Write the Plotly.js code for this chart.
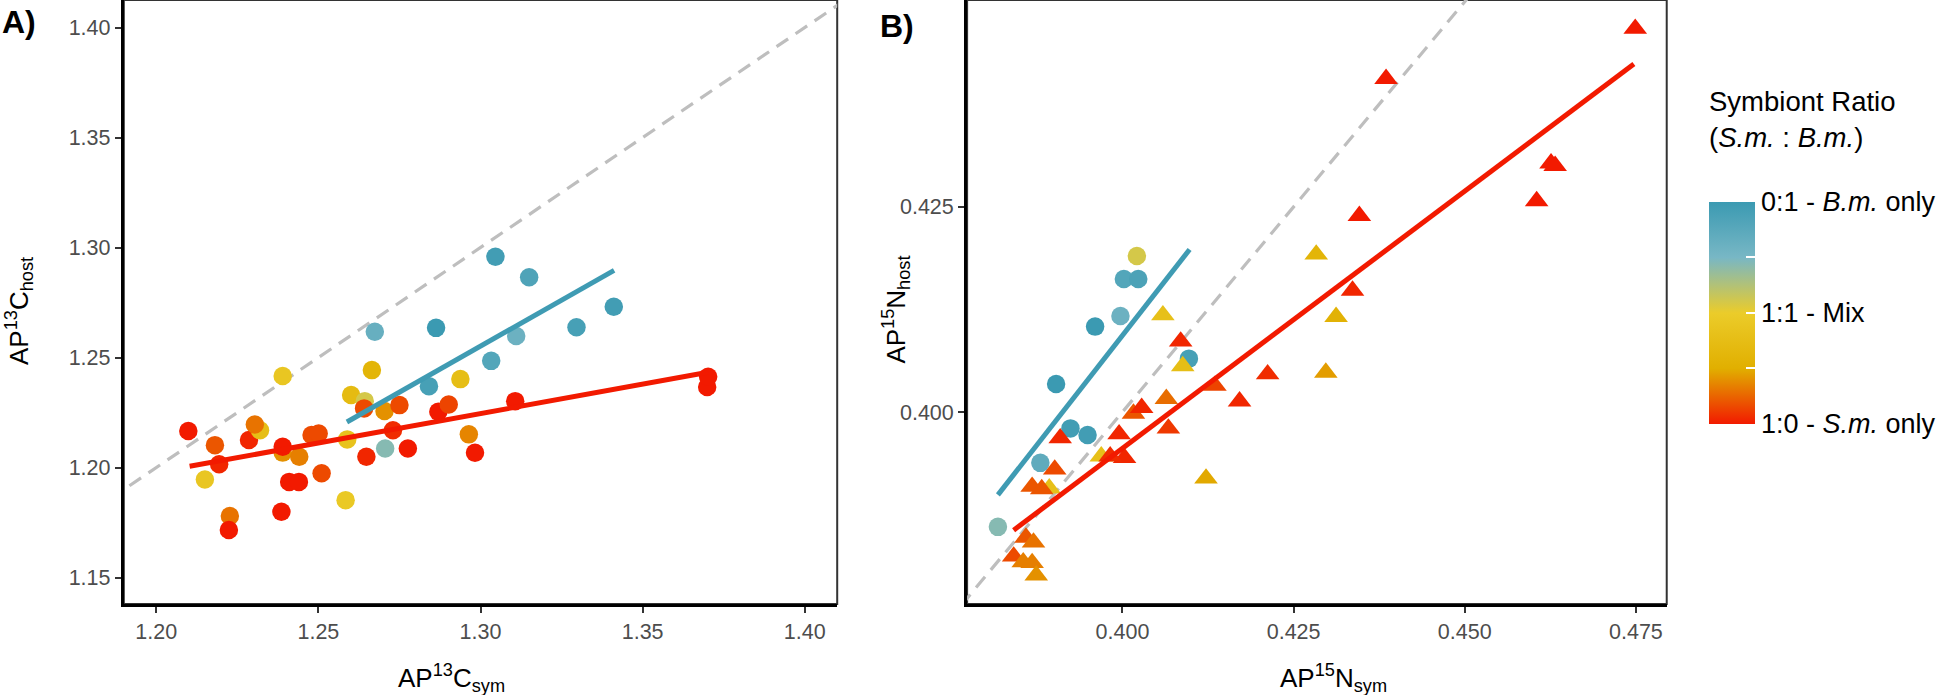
<!DOCTYPE html>
<html>
<head>
<meta charset="utf-8">
<script src="https://cdn.plot.ly/plotly-3.0.1.min.js"></script>
<style>
  html, body { margin: 0; padding: 0; background: #fff; }
  #chart { width: 1945px; height: 695px; }
</style>
</head>
<body>
<div id="chart"></div>
<script>
// Panel A - carbon (all circles)
const symA = [1.2099, 1.2181, 1.2194, 1.2150, 1.2227, 1.2224, 1.2286, 1.2320, 1.2304, 1.2390,
              1.2390, 1.2390, 1.2386, 1.2410, 1.2440, 1.2441, 1.2479, 1.2501, 1.2510, 1.2584,
              1.2589, 1.2601, 1.2643, 1.2641, 1.2648, 1.2665, 1.2674, 1.2704, 1.2706, 1.2730,
              1.2750, 1.2776, 1.2841, 1.2863, 1.2870, 1.2902, 1.2938, 1.2964, 1.2983, 1.3033,
              1.3046, 1.3110, 1.3107, 1.3150, 1.3296, 1.3411, 1.3699, 1.3702];
const hostA = [1.2166, 1.2102, 1.2015, 1.1946, 1.1780, 1.1716, 1.2125, 1.2170, 1.2196, 1.2416,
               1.2068, 1.2095, 1.1799, 1.1935, 1.1935, 1.2049, 1.2148, 1.2155, 1.1974, 1.1852,
               1.2128, 1.2330, 1.2302, 1.2269, 1.2049, 1.2443, 1.2617, 1.2257, 1.2087, 1.2170,
               1.2284, 1.2087, 1.2370, 1.2635, 1.2254, 1.2287, 1.2402, 1.2151, 1.2067, 1.2485,
               1.2958, 1.2598, 1.2302, 1.2865, 1.2638, 1.2731, 1.2366, 1.2413];
const ratioA = [0.00, 0.10, 0.02, 0.45, 0.15, 0.00, 0.02, 0.38, 0.15, 0.45,
                0.20, 0.00, 0.00, 0.00, 0.00, 0.17, 0.08, 0.08, 0.08, 0.47,
                0.42, 0.35, 0.55, 0.08, 0.02, 0.30, 0.82, 0.20, 0.72, 0.03,
                0.08, 0.00, 0.95, 1.00, 0.00, 0.07, 0.38, 0.18, 0.00, 0.90,
                0.97, 0.80, 0.00, 0.92, 0.95, 0.97, 0.00, 0.00];

// Panel B - nitrogen, circles
const symBc  = [0.4021, 0.3818, 0.3880, 0.3903, 0.3924, 0.3949, 0.3960, 0.3997, 0.4002, 0.4023, 0.4097];
const hostBc = [0.4190, 0.3860, 0.3938, 0.4034, 0.3980, 0.3972, 0.4104, 0.4117, 0.4162, 0.4162, 0.4065];
const ratioBc = [0.55, 0.72, 0.85, 1.00, 0.97, 0.97, 1.00, 0.80, 0.90, 0.93, 0.95];

// Panel B - nitrogen, triangles
const symBt  = [0.4385, 0.4346, 0.4336, 0.4283, 0.4312, 0.4297, 0.4212, 0.4171, 0.4135, 0.4122,
                0.4059, 0.4085, 0.4088, 0.4064, 0.4067, 0.4016, 0.4028, 0.3995, 0.4003, 0.3969,
                0.3982, 0.3909, 0.3901, 0.3893, 0.3868, 0.3882, 0.3859, 0.3870, 0.3841, 0.3855,
                0.3868, 0.3874, 0.4749, 0.4626, 0.4632, 0.4605];
const hostBt = [0.4406, 0.4239, 0.4148, 0.4192, 0.4116, 0.4048, 0.4046, 0.4013, 0.4032, 0.3919,
                0.4118, 0.4086, 0.4056, 0.4016, 0.3980, 0.3998, 0.4005, 0.3973, 0.3944, 0.3946,
                0.3946, 0.3968, 0.3930, 0.3907, 0.3909, 0.3906, 0.3847, 0.3841, 0.3824, 0.3817,
                0.3816, 0.3801, 0.4467, 0.4303, 0.4300, 0.4257];
const ratioBt = [0.00, 0.00, 0.02, 0.30, 0.28, 0.22, 0.03, 0.02, 0.07, 0.24,
                 0.40, 0.02, 0.38, 0.14, 0.05, 0.10, 0.02, 0.02, 0.02, 0.40,
                 0.03, 0.02, 0.08, 0.40, 0.10, 0.10, 0.10, 0.15, 0.08, 0.17,
                 0.17, 0.20, 0.00, 0.00, 0.00, 0.00];

// fitted lines (end points)
const fitRedAx = [1.2103, 1.3702], fitRedAy = [1.2006, 1.2433];
const fitBlueAx = [1.2588, 1.3412], fitBlueAy = [1.2207, 1.2896];
const fitRedBx = [0.3841, 0.4747], fitRedBy = [0.3856, 0.4424];
const fitBlueBx = [0.3818, 0.4098], fitBlueBy = [0.3899, 0.4198];

// 1:1 lines
const oneToOneA = [1.18, 1.42];
const oneToOneB = [0.37, 0.46];

// colour bar
const ratioTicks = [0, 0.25, 0.5, 0.75, 1];
const ratioLabels = ['1:0 - <i>S.m.</i> only', '', '1:1 - Mix', '', '0:1 - <i>B.m.</i> only'];

const zissou = [[0, '#F21A00'], [0.25, '#E1AF00'], [0.5, '#EBCC2A'], [0.75, '#78B7C5'], [1, '#3B9AB2']];
const RED = '#F21A00', BLUE = '#3F9BB3', DASH = '#BEBEBE';

function markerFor(vals, symbol, size, showScale) {
    let m = {
        color: vals, colorscale: zissou, cmin: 0, cmax: 1,
        symbol: symbol, size: size, line: {width: 0}, opacity: 1
    };
    if (showScale) {
        m.showscale = true;
        m.colorbar = {
            x: 1712 / 1945, xanchor: 'left',
            y: 0.5498, yanchor: 'middle',
            len: 222 / 695, lenmode: 'fraction',
            thickness: 46, thicknessmode: 'pixels',
            xpad: 0, ypad: 0, outlinewidth: 0,
            tickmode: 'array', tickvals: ratioTicks, ticktext: ratioLabels,
            ticks: 'inside', ticklen: 9, tickwidth: 2, tickcolor: 'white',
            tickfont: {family: 'Liberation Sans, Arial, sans-serif', size: 27, color: '#000'},
            title: {text: ''}
        };
    }
    return m;
}

let traces = [
    // panel A
    {x: oneToOneA, y: oneToOneA, mode: 'lines', xaxis: 'x', yaxis: 'y',
     line: {color: DASH, width: 3.2, dash: '14px,9px'}},
    {x: symA, y: hostA, mode: 'markers', xaxis: 'x', yaxis: 'y',
     marker: markerFor(ratioA, 'circle', 18.5, true)},
    {x: fitRedAx, y: fitRedAy, mode: 'lines', xaxis: 'x', yaxis: 'y', line: {color: RED, width: 5}},
    {x: fitBlueAx, y: fitBlueAy, mode: 'lines', xaxis: 'x', yaxis: 'y', line: {color: BLUE, width: 5}},
    // panel B
    {x: oneToOneB, y: oneToOneB, mode: 'lines', xaxis: 'x2', yaxis: 'y2',
     line: {color: DASH, width: 3.2, dash: '14px,9px'}},
    {x: symBc, y: hostBc, mode: 'markers', xaxis: 'x2', yaxis: 'y2',
     marker: markerFor(ratioBc, 'circle', 18.5, false)},
    {x: symBt, y: hostBt, mode: 'markers', xaxis: 'x2', yaxis: 'y2',
     marker: markerFor(ratioBt, 'triangle-up', 20.5, false)},
    {x: fitRedBx, y: fitRedBy, mode: 'lines', xaxis: 'x2', yaxis: 'y2', line: {color: RED, width: 5}},
    {x: fitBlueBx, y: fitBlueBy, mode: 'lines', xaxis: 'x2', yaxis: 'y2', line: {color: BLUE, width: 5}}
];

const FONT = 'Liberation Sans, Arial, Helvetica, sans-serif';
const tickFont = {family: FONT, size: 21.5, color: '#4D4D4D'};

function axisStyle(extra) {
    return Object.assign({
        showgrid: false, zeroline: false,
        showline: true, linecolor: '#000', linewidth: 3,
        ticks: 'outside', ticklen: 6, tickwidth: 2, tickcolor: '#333',
        tickfont: tickFont, fixedrange: true
    }, extra);
}

let layout = {
    width: 1945, height: 695,
    margin: {l: 0, r: 0, t: 0, b: 0},
    paper_bgcolor: '#fff', plot_bgcolor: '#fff',
    showlegend: false, hovermode: false,
    font: {family: FONT},
    xaxis: axisStyle({domain: [124 / 1945, 838.5 / 1945], range: [1.19, 1.41],
        tickvals: [1.20, 1.25, 1.30, 1.35, 1.40], tickformat: '.2f', anchor: 'y'}),
    yaxis: axisStyle({domain: [91 / 695, 1], range: [1.138, 1.4125],
        tickvals: [1.15, 1.20, 1.25, 1.30, 1.35, 1.40], tickformat: '.2f', anchor: 'x'}),
    xaxis2: axisStyle({domain: [968.6 / 1945, 1669.3 / 1945], range: [0.3773, 0.4795],
        tickvals: [0.400, 0.425, 0.450, 0.475], tickformat: '.3f', anchor: 'y2'}),
    yaxis2: axisStyle({domain: [91 / 695, 1], range: [0.3766, 0.4502],
        tickvals: [0.400, 0.425], tickformat: '.3f', anchor: 'x2'}),
    shapes: [
        {type: 'rect', xref: 'x domain', yref: 'y domain', x0: 0, x1: 1, y0: 0, y1: 1,
         line: {color: '#333', width: 2}, layer: 'below'},
        {type: 'rect', xref: 'x2 domain', yref: 'y2 domain', x0: 0, x1: 1, y0: 0, y1: 1,
         line: {color: '#333', width: 2}, layer: 'below'}
    ],
    annotations: [
        {text: '<b>A)</b>', xref: 'paper', yref: 'paper', x: 0, y: 1 - 22 / 695,
         xanchor: 'left', yanchor: 'middle', showarrow: false, font: {family: FONT, size: 32, color: '#000'}},
        {text: '<b>B)</b>', xref: 'paper', yref: 'paper', x: 879 / 1945, y: 1 - 26 / 695,
         xanchor: 'left', yanchor: 'middle', showarrow: false, font: {family: FONT, size: 32, color: '#000'}},
        {text: 'AP<sup>13</sup>C<sub>host</sub>', xref: 'paper', yref: 'paper', x: 19 / 1945, y: 1 - 311 / 695,
         textangle: -90, xanchor: 'center', yanchor: 'middle', showarrow: false, font: {family: FONT, size: 26, color: '#000'}},
        {text: 'AP<sup>13</sup>C<sub>sym</sub>', xref: 'paper', yref: 'paper', x: 452 / 1945, y: 17 / 695,
         xanchor: 'center', yanchor: 'middle', showarrow: false, font: {family: FONT, size: 26, color: '#000'}},
        {text: 'AP<sup>15</sup>N<sub>host</sub>', xref: 'paper', yref: 'paper', x: 897 / 1945, y: 1 - 310 / 695,
         textangle: -90, xanchor: 'center', yanchor: 'middle', showarrow: false, font: {family: FONT, size: 26, color: '#000'}},
        {text: 'AP<sup>15</sup>N<sub>sym</sub>', xref: 'paper', yref: 'paper', x: 1336 / 1945, y: 17 / 695,
         xanchor: 'center', yanchor: 'middle', showarrow: false, font: {family: FONT, size: 26, color: '#000'}},
        {text: 'Symbiont Ratio<br>(<i>S.m.</i> : <i>B.m.</i>)', xref: 'paper', yref: 'paper',
         x: 1710 / 1945, y: 1 - 84 / 695, xanchor: 'left', yanchor: 'top', align: 'left',
         showarrow: false, font: {family: FONT, size: 27.5, color: '#000'}}
    ]
};

Plotly.newPlot('chart', traces, layout, {displayModeBar: false, staticPlot: true});
</script>
</body>
</html>
